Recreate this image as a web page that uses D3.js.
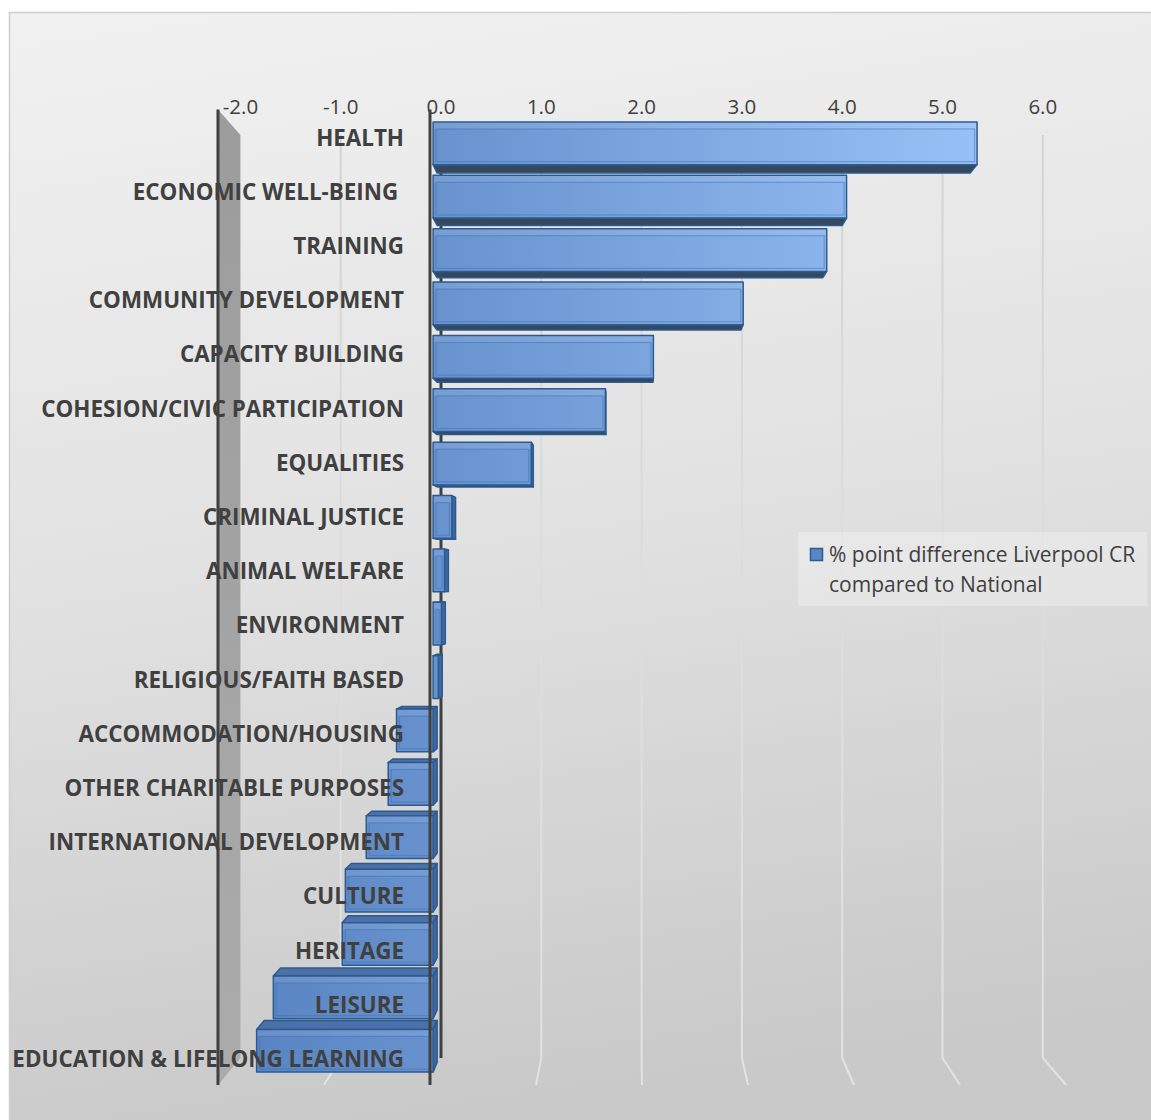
<!DOCTYPE html>
<html>
<head>
<meta charset="utf-8">
<script src="https://cdn.jsdelivr.net/npm/d3@7/dist/d3.min.js"></script>
<style>
  html, body { margin: 0; padding: 0; background: #ffffff; }
  svg { display: block; }
  text { font-family: "Open Sans", "DejaVu Sans", sans-serif; }
</style>
</head>
<body>
<svg id="chart" width="1151" height="1120"></svg>
<script>
// ---------------- data ----------------
const categories = [
  "HEALTH",
  "ECONOMIC WELL-BEING ",
  "TRAINING",
  "COMMUNITY DEVELOPMENT",
  "CAPACITY BUILDING",
  "COHESION/CIVIC PARTICIPATION",
  "EQUALITIES",
  "CRIMINAL JUSTICE",
  "ANIMAL WELFARE",
  "ENVIRONMENT",
  "RELIGIOUS/FAITH BASED",
  "ACCOMMODATION/HOUSING",
  "OTHER CHARITABLE PURPOSES",
  "INTERNATIONAL DEVELOPMENT",
  "CULTURE",
  "HERITAGE",
  "LEISURE",
  "EDUCATION & LIFELONG LEARNING"
];
const values = [5.21, 3.96, 3.77, 2.97, 2.11, 1.65, 0.94, 0.18, 0.11, 0.08, 0.05,
                -0.35, -0.43, -0.64, -0.84, -0.87, -1.53, -1.69];
const tickValues = [-2, -1, 0, 1, 2, 3, 4, 5, 6];
const tickLabels = ["-2.0", "-1.0", "0.0", "1.0", "2.0", "3.0", "4.0", "5.0", "6.0"];
const seriesName = ["% point difference Liverpool CR", "compared to National"];

// ---------------- layout / projection ----------------
const svg = d3.select("#chart");
const VP = [634, 584];              // vanishing point of the 3D view
const K_BACK = 1, K_FRONT = 1.057;  // back wall and front plane
const K_BAR0 = 1.02, K_BAR1 = 1.041; // bar depth range
const proj = (xb, yb, k) => [VP[0] + k * (xb - VP[0]), VP[1] + k * (yb - VP[1])];

const x = d3.scaleLinear().domain([-2, 6]).range([240.4, 1042.8]);
const y = d3.scaleBand().domain(categories).range([135, 1058])
  .paddingInner(0.2).paddingOuter(0.1);
const wallTop = 135, wallBottom = 1058;

const defs = svg.append("defs");
const bg = defs.append("linearGradient").attr("id", "bg")
  .attr("x1", 0).attr("y1", 0).attr("x2", 0.15).attr("y2", 1);
bg.append("stop").attr("offset", 0).attr("stop-color", "#f1f1f1");
bg.append("stop").attr("offset", 0.5).attr("stop-color", "#e2e2e2");
bg.append("stop").attr("offset", 1).attr("stop-color", "#c9c9c9");

const grid = defs.append("linearGradient").attr("id", "grid")
  .attr("gradientUnits", "userSpaceOnUse")
  .attr("x1", 0).attr("y1", 135).attr("x2", 0).attr("y2", 1085);
grid.append("stop").attr("offset", 0).attr("stop-color", "#d3d3d3");
grid.append("stop").attr("offset", 0.45).attr("stop-color", "#dcdcdc");
grid.append("stop").attr("offset", 1).attr("stop-color", "#e3e3e3");

const wallG = defs.append("linearGradient").attr("id", "wall")
  .attr("x1", 0).attr("y1", 0).attr("x2", 0).attr("y2", 1);
wallG.append("stop").attr("offset", 0).attr("stop-color", "#9c9c9c");
wallG.append("stop").attr("offset", 1).attr("stop-color", "#ababab");

const barG = defs.append("linearGradient").attr("id", "barfront")
  .attr("gradientUnits", "userSpaceOnUse")
  .attr("x1", 250).attr("y1", 0).attr("x2", 980).attr("y2", 0);
barG.append("stop").attr("offset", 0).attr("stop-color", "#5884c1");
barG.append("stop").attr("offset", 0.26).attr("stop-color", "#6893cf");
barG.append("stop").attr("offset", 1).attr("stop-color", "#97c1f6");

// background + border
svg.append("rect").attr("x", 9.5).attr("y", 12.5).attr("width", 1160).attr("height", 1130)
  .attr("fill", "url(#bg)").attr("stroke", "#cfcfcf").attr("stroke-width", 1.5);

const line = d3.line();

// back-wall gridlines + floor lines
const gridG = svg.append("g");
tickValues.filter(t => t > -2 && t !== 0).forEach(t => {
  const top = proj(x(t), wallTop, K_BACK);
  const bot = proj(x(t), wallBottom, K_BACK);
  const front = proj(x(t), wallBottom, K_FRONT);
  gridG.append("path").attr("d", line([top, bot, front]))
    .attr("fill", "none").attr("stroke", "url(#grid)").attr("stroke-width", 2);
});

// left side wall at x = -2
const lw = [proj(x(-2), wallTop, K_FRONT), proj(x(-2), wallTop, K_BACK),
            proj(x(-2), wallBottom, K_BACK), proj(x(-2), wallBottom, K_FRONT)];
svg.append("path").attr("d", line(lw) + "Z").attr("fill", "url(#wall)");

// back zero line
svg.append("path")
  .attr("d", line([proj(x(0), wallTop, K_BACK), proj(x(0), wallBottom, K_BACK)]))
  .attr("stroke", "#404040").attr("stroke-width", 3);

// tick labels
svg.append("g").selectAll("text").data(tickValues).join("text")
  .attr("x", d => x(d)).attr("y", 114)
  .attr("text-anchor", "middle")
  .attr("font-size", 20.5).attr("fill", "#404040")
  .text((d, i) => tickLabels[i]);

// bars
const barsG = svg.append("g");
categories.forEach((c, i) => {
  const v = values[i];
  const x0 = x(Math.min(0, v)), x1 = x(Math.max(0, v));
  const y0 = y(c), y1 = y0 + y.bandwidth();
  const F = { tl: proj(x0, y0, K_BAR1), tr: proj(x1, y0, K_BAR1), br: proj(x1, y1, K_BAR1), bl: proj(x0, y1, K_BAR1) };
  const B = { tl: proj(x0, y0, K_BAR0), tr: proj(x1, y0, K_BAR0), br: proj(x1, y1, K_BAR0), bl: proj(x0, y1, K_BAR0) };
  const g = barsG.append("g");
  const face = (pts, fill) => g.append("path").attr("d", line(pts) + "Z")
    .attr("fill", fill).attr("stroke", "#2d5a90").attr("stroke-width", 1.5)
    .attr("stroke-linejoin", "round");
  if (y1 < VP[1]) face([F.bl, F.br, B.br, B.bl], "#34495f");
  if (y0 > VP[1]) face([F.tl, F.tr, B.tr, B.tl], "#4a72a8");
  if (x1 < VP[0]) face([F.tr, B.tr, B.br, F.br], "#3f68a0");
  face([F.tl, F.tr, F.br, F.bl], "url(#barfront)");
  // bevel details on the front face
  const w = F.tr[0] - F.tl[0], h = F.bl[1] - F.tl[1];
  if (w > 8) {
    g.append("rect").attr("x", F.tl[0] + 0.8).attr("y", F.tl[1] + 0.8)
      .attr("width", w - 1.6).attr("height", 6.2)
      .attr("fill", "#ffffff").attr("fill-opacity", 0.1);
    g.append("rect").attr("x", F.tl[0] + 3).attr("y", F.tl[1] + 7)
      .attr("width", w - 5.5).attr("height", h - 10)
      .attr("fill", "none").attr("stroke", "#3f6fae").attr("stroke-opacity", 0.45)
      .attr("stroke-width", 1.2);
  }
});

// category labels (front plane)
svg.append("g").selectAll("text").data(categories).join("text")
  .attr("x", 404)
  .attr("y", d => proj(0, y(d) + y.bandwidth() / 2, K_FRONT)[1] + 9)
  .attr("text-anchor", "end")
  .attr("font-size", 22.4).attr("font-weight", "bold").attr("fill", "#404040")
  .style("white-space", "pre")
  .text(d => d);

// left wall front edge & front zero line
svg.append("path")
  .attr("d", line([proj(x(-2), wallTop, K_FRONT), proj(x(-2), wallBottom, K_FRONT)]))
  .attr("stroke", "#404040").attr("stroke-width", 3);
svg.append("path")
  .attr("d", line([proj(x(0), wallTop, K_FRONT), proj(x(0), wallBottom, K_FRONT)]))
  .attr("stroke", "#404040").attr("stroke-width", 3);

// legend
const lg = svg.append("g");
lg.append("rect").attr("x", 798).attr("y", 532).attr("width", 349).attr("height", 74)
  .attr("fill", "#ffffff").attr("fill-opacity", 0.28);
lg.append("rect").attr("x", 810.5).attr("y", 548.5).attr("width", 12).attr("height", 12)
  .attr("fill", "#5b86c2").attr("stroke", "#2d5a90").attr("stroke-width", 1.5);
lg.selectAll("text.leg").data(seriesName).join("text").attr("class", "leg")
  .attr("x", 829).attr("y", (d, i) => 562 + i * 30)
  .attr("font-size", 21).attr("fill", "#404040")
  .text(d => d);
</script>
</body>
</html>
